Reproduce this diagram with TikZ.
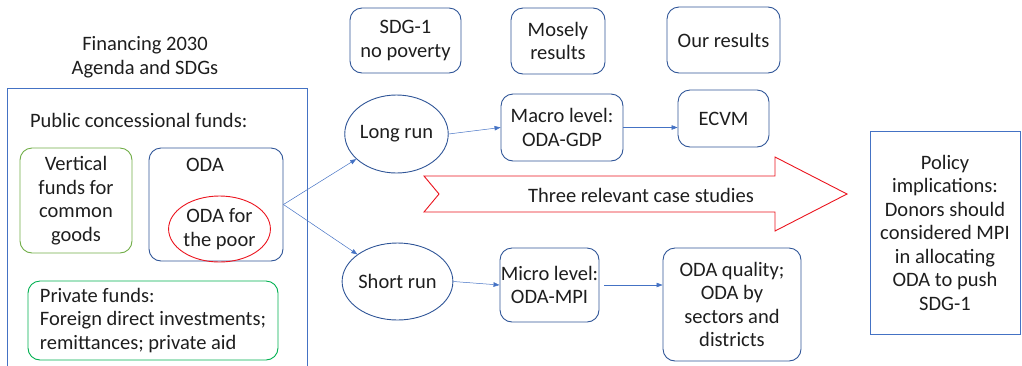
\documentclass[tikz,border=0pt]{standalone}
\usepackage{fontspec}
\setmainfont{Carlito}
\usepackage{xcolor}
\usetikzlibrary{positioning,arrows.meta,shapes.geometric}
\definecolor{txtgray}{RGB}{30,30,30}
\definecolor{oblue}{RGB}{47,85,151}
\definecolor{lblue}{RGB}{68,114,196}
\definecolor{vgreen}{RGB}{112,173,71}
\definecolor{pgreen}{RGB}{0,176,80}
\definecolor{ored}{RGB}{235,20,30}

\begin{document}
\begin{tikzpicture}[x=1pt,y=-1pt,
  every node/.style={font=\fontsize{20.5}{23.5}\selectfont,text=txtgray,align=center},
  roundbox/.style={draw=oblue,line width=0.9pt,rounded corners=12pt,inner sep=0pt},
  oval/.style={draw=oblue,line width=0.9pt,ellipse,inner sep=0pt},
  link/.style={draw=lblue,line width=0.5pt,-{Triangle[length=6pt,width=4.5pt]}}]
  \useasboundingbox (0,0) rectangle (1022,365);
  % financing frame (open at the bottom)
  \node (title) at (145,57) {Financing 2030\\Agenda and SDGs};
  \draw[lblue,line width=0.9pt] (7,368)--(7,88)--(307,88)--(307,368);
  \node[anchor=west] (public) at (26.5,120) {Public concessional funds:};
  \node[roundbox,draw=vgreen,minimum width=112pt,minimum height=105pt] (vertical) at (76,200.5) {Vertical\\funds for\\common\\goods};
  \node[roundbox,minimum width=134pt,minimum height=113pt] (oda) at (216,204.5) {};
  \node (odalabel) at (205,165) {ODA};
  \node[ellipse,draw=ored,line width=0.9pt,inner sep=0pt,minimum width=95pt,minimum height=66pt] (poor) at (219.5,229) {ODA for\\the poor};
  \node[roundbox,draw=pgreen,minimum width=250pt,minimum height=79pt,align=left] (private) at (153,320.5) {Private funds:\\Foreign direct investments;\\remittances; private aid};
  % header boxes
  \node[roundbox,minimum width=111pt,minimum height=65pt] (sdg) at (405.5,40.5) {SDG-1\\no poverty};
  \node[roundbox,minimum width=94pt,minimum height=66pt] (mosely) at (558,41) {Mosely\\results};
  \node[roundbox,minimum width=113pt,minimum height=66pt] (ours) at (723.5,40) {Our results};
  % long run branch
  \node[oval,minimum width=93pt,minimum height=78pt] (long) at (396.5,134) {Long run};
  \node[roundbox,minimum width=122pt,minimum height=67pt] (macro) at (562,127.5) {Macro level:\\ODA-GDP};
  \node[roundbox,minimum width=91pt,minimum height=57pt] (ecvm) at (723.5,118.5) {ECVM};
  % short run branch
  \node[oval,minimum width=89pt,minimum height=77pt] (short) at (397.5,281.5) {Short run};
  \node[roundbox,minimum width=99pt,minimum height=74pt] (micro) at (549.5,285) {Micro level:\\ODA-MPI};
  \node[roundbox,minimum width=138pt,minimum height=113pt] (quality) at (732,304.5) {ODA quality;\\ODA by\\sectors and\\districts};
  % case studies arrow
  \draw[ored,line width=0.9pt,fill=white] (424,176)--(775,176)--(775,157)--(847,194)--(775,231)--(775,212)--(424,212)--(439,194)--cycle;
  \node (cases) at (641,195) {Three relevant case studies};
  % policy box
  \node[draw=lblue,line width=0.9pt,minimum width=150pt,minimum height=203pt] (policy) at (945,232.5) {Policy\\implications:\\Donors should\\considered MPI\\in allocating\\ODA to push\\SDG-1};
  % connectors
  \draw[link] (oda.east) -- (long);
  \draw[link] (oda.east) -- (short);
  \draw[link] (long.east) -- (macro.west);
  \draw[link] (macro.east) -- (macro.east -| ecvm.west);
  \draw[link] (short.east) -- (micro.west);
  \draw[link,shorten <=5pt] (micro.east) -- (micro.east -| quality.west);
\end{tikzpicture}
\end{document}
